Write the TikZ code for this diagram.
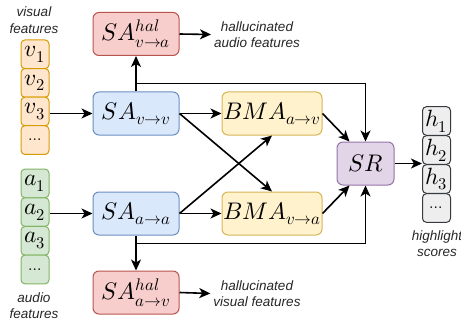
\documentclass[tikz,border=0pt]{standalone}
\usepackage{fontspec}
\usepackage{unicode-math}
\setmathfont{Latin Modern Math}
\newfontfamily\labfont{Liberation Sans}
\usetikzlibrary{arrows.meta,calc}
\definecolor{orF}{HTML}{FFE6CC}\definecolor{orD}{HTML}{D79B00}
\definecolor{grF}{HTML}{D5E8D4}\definecolor{grD}{HTML}{82B366}
\definecolor{blF}{HTML}{DAE8FC}\definecolor{blD}{HTML}{6C8EBF}
\definecolor{rdF}{HTML}{F8CECC}\definecolor{rdD}{HTML}{B85450}
\definecolor{yeF}{HTML}{FFF2CC}\definecolor{yeD}{HTML}{D6B656}
\definecolor{puF}{HTML}{E1D5E7}\definecolor{puD}{HTML}{9673A6}
\definecolor{gyF}{HTML}{EEEEEE}\definecolor{gyD}{HTML}{36393D}
\begin{document}
\begin{tikzpicture}[x=1pt,y=-1pt,
  box/.style={draw, rounded corners=6pt, line width=1pt, minimum width=86pt, minimum height=43pt, inner sep=0pt, font=\fontsize{24}{28}\selectfont},
  cell/.style={draw, rounded corners=4pt, line width=1pt, minimum width=28pt, minimum height=28.7pt, inner sep=0pt, font=\fontsize{23.5}{26}\selectfont},
  dots/.style={font=\fontsize{16}{18}\selectfont},
  lab/.style={font=\labfont\itshape\fontsize{13.5}{16.5}\selectfont, align=center, text=black!85, inner sep=3pt},
  arr/.style={line width=1.6pt, -{Stealth[length=11pt,width=10pt,inset=3pt]}}]
\useasboundingbox (0,0) rectangle (461,321);
% visual stack
\node[cell, fill=orF, draw=orD] (v1) at (35,54.3) {$v_1$};
\node[cell, fill=orF, draw=orD] (v2) at (35,82.9) {$v_2$};
\node[cell, fill=orF, draw=orD] (v3) at (35,111.5) {$v_3$};
\node[cell, fill=orF, draw=orD, dots] (v4) at (35,140.1) {$\ldots$};
\node[lab] (vlab) at (34,20) {visual\\features};
% audio stack
\node[cell, fill=grF, draw=grD] (a1) at (35,183.4) {$a_1$};
\node[cell, fill=grF, draw=grD] (a2) at (35,212.1) {$a_2$};
\node[cell, fill=grF, draw=grD] (a3) at (35,240.8) {$a_3$};
\node[cell, fill=grF, draw=grD, dots] (a4) at (35,269.5) {$\ldots$};
\node[lab] (alab) at (34,305.5) {audio\\features};
% highlight stack
\node[cell, fill=gyF, draw=gyD] (h1) at (436.5,121) {$h_1$};
\node[cell, fill=gyF, draw=gyD] (h2) at (436.5,150) {$h_2$};
\node[cell, fill=gyF, draw=gyD] (h3) at (436.5,179) {$h_3$};
\node[cell, fill=gyF, draw=gyD, dots] (h4) at (436.5,208) {$\ldots$};
\node[lab] (hlab) at (437,243.5) {highlight\\scores};
% main boxes
\node[box, fill=rdF, draw=rdD] (hv) at (136,34) {$SA^{hal}_{\vphantom{l}v\to a}$};
\node[box, fill=blF, draw=blD] (savv) at (136,113.5) {$SA_{v\to v}$};
\node[box, fill=blF, draw=blD] (saaa) at (136,213.5) {$SA_{a\to a}$};
\node[box, fill=rdF, draw=rdD] (ha) at (136,292.5) {$SA^{hal}_{\vphantom{l}a\to v}$};
\node[box, fill=yeF, draw=yeD, minimum width=100pt] (bav) at (272,113.5) {$BMA_{a\to v}$};
\node[box, fill=yeF, draw=yeD, minimum width=100pt] (bva) at (272,213.5) {$BMA_{v\to a}$};
\node[box, fill=puF, draw=puD, minimum width=57pt] (sr) at (365.5,163.5) {$SR$};
\node[lab] (hvt) at (257,34.5) {hallucinated\\audio features};
\node[lab] (hat) at (257,293.5) {hallucinated\\visual features};
% connectors
\draw[arr] (savv.west -| v3.east) -- (savv.west);
\draw[arr] (saaa.west -| a2.east) -- (saaa.west);
\draw[arr] (savv.north) -- (hv.south);
\draw[arr] (savv.north) ++(0,-8) -| (sr.north);
\draw[arr] (saaa.south) -- (ha.north);
\draw[arr] (saaa.south) ++(0,8) -| (sr.south);
\draw[arr] (hv.east) -- (hvt.west);
\draw[arr] (ha.east) -- (hat.west);
\draw[arr] (savv.east) -- (bav.west);
\draw[arr] (saaa.east) -- (bva.west);
\draw[arr] (savv.east) -- (bva.north);
\draw[arr] (saaa.east) -- (bav.south);
\draw[arr] (bav.east) -- ([xshift=13pt]sr.north west);
\draw[arr] (bva.east) -- ([xshift=13pt]sr.south west);
\draw[arr] (sr.east) -- (sr.east -| h2.west);
\end{tikzpicture}
\end{document}
